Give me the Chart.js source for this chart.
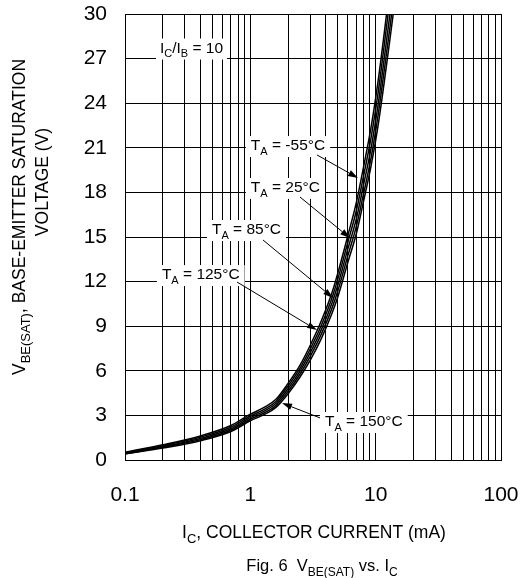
<!DOCTYPE html>
<html>
<head>
<meta charset="utf-8">
<script src="https://cdn.jsdelivr.net/npm/chart.js@4/dist/chart.umd.min.js"></script>
<style>
  html, body { margin: 0; padding: 0; background: #fff; }
  #wrap { width: 521px; height: 578px; position: relative; }
</style>
</head>
<body>
<div id="wrap"><canvas id="c" width="521" height="578"></canvas></div>
<script>
// ---- Data ----
const currents = [0.1, 0.2, 0.4, 0.7, 1, 1.3, 1.6, 2, 2.5, 3, 3.7, 4.5, 5, 6, 7, 8, 9.2, 10.5, 11.7, 13, 14];
const vbeM55 = [0.52, 1.02, 1.62, 2.32, 3.08, 3.55, 4.08, 5.15, 6.4, 7.7, 9.4, 11.3, 12.6, 15.1, 17.3, 19.7, 22.4, 25.6, 28.7, 31.9, 34.2];
const vbe25  = [0.48, 0.96, 1.54, 2.2, 2.96, 3.42, 3.94, 4.98, 6.2, 7.45, 9.1, 10.95, 12.2, 14.65, 16.75, 19.1, 21.7, 24.8, 27.9, 31.0, 33.2];
const vbe85  = [0.45, 0.9, 1.45, 2.1, 2.85, 3.3, 3.8, 4.8, 6.0, 7.2, 8.8, 10.6, 11.8, 14.2, 16.2, 18.5, 21.0, 24.0, 27.0, 30.0, 32.2];
const vbe125 = [0.42, 0.85, 1.37, 2.0, 2.74, 3.18, 3.66, 4.62, 5.8, 6.95, 8.5, 10.25, 11.4, 13.75, 15.7, 17.9, 20.35, 23.3, 26.2, 29.1, 31.3];
const vbe150 = [0.4, 0.8, 1.3, 1.92, 2.64, 3.07, 3.54, 4.46, 5.6, 6.7, 8.2, 9.9, 11.0, 13.3, 15.2, 17.4, 19.8, 22.6, 25.4, 28.3, 30.4];
const seriesNames = ['-55', '25', '85', '125', '150'];
const xGridValues = [0.1,0.2,0.3,0.4,0.5,0.6,0.7,0.8,0.9,1,2,3,4,5,6,7,8,9,10,20,30,40,50,60,70,80,90,100];
const xTickLabels = ['0.1', '1', '10', '100'];
const yMin = 0, yMax = 30, yStep = 3;

// annotation anchors in data units (current mA, voltage V)
const labelAnchors = {
  '-55': [1.01, 20.85], '25': [1.01, 18.03], '85': [0.494, 15.2],
  '125': [0.197, 12.17], '150': [3.94, 2.29]
};
const arrowAnchors = {
  '-55': [3.40, 20.52, 7.23, 18.97], '25': [2.49, 17.69, 6.24, 14.93],
  '85': [1.262, 14.80, 4.57, 10.90], '125': [0.783, 11.97, 3.40, 8.74],
  '150': [3.60, 2.83, 1.79, 3.83]
};
const ratioAnchor = [0.19, 27.41];

const FONT = '"Liberation Sans", Arial, Helvetica, sans-serif';
const seriesValues = [vbeM55, vbe25, vbe85, vbe125, vbe150];

function rich(ctx, parts, size, x, y, align) {
  const subSize = Math.round(size * 0.72);
  let w = 0;
  parts.forEach(p => { ctx.font = (p[1] ? subSize : size) + 'px ' + FONT; w += ctx.measureText(p[0]).width; });
  let cx = align === 'center' ? x - w / 2 : x;
  ctx.textAlign = 'left';
  ctx.textBaseline = 'alphabetic';
  parts.forEach(p => {
    ctx.font = (p[1] ? subSize : size) + 'px ' + FONT;
    ctx.fillText(p[0], cx, p[1] ? y + size * 0.3 : y);
    cx += ctx.measureText(p[0]).width;
  });
  return w;
}
function measureRich(ctx, parts, size) {
  const subSize = Math.round(size * 0.72);
  let w = 0;
  parts.forEach(p => { ctx.font = (p[1] ? subSize : size) + 'px ' + FONT; w += ctx.measureText(p[0]).width; });
  return w;
}
function arrow(ctx, x1, y1, x2, y2) {
  const ang = Math.atan2(y2 - y1, x2 - x1);
  const L = 10, W = 3.2;
  ctx.strokeStyle = '#000'; ctx.fillStyle = '#000'; ctx.lineWidth = 1;
  ctx.beginPath(); ctx.moveTo(x1, y1);
  ctx.lineTo(x2 - L * Math.cos(ang), y2 - L * Math.sin(ang)); ctx.stroke();
  ctx.beginPath();
  ctx.moveTo(x2, y2);
  ctx.lineTo(x2 - L * Math.cos(ang) + W * Math.sin(ang), y2 - L * Math.sin(ang) - W * Math.cos(ang));
  ctx.lineTo(x2 - L * Math.cos(ang) - W * Math.sin(ang), y2 - L * Math.sin(ang) + W * Math.cos(ang));
  ctx.closePath(); ctx.fill();
}

const annotPlugin = {
  id: 'annot',
  beforeDatasetsDraw(chart) {
    const ctx = chart.ctx, xs = chart.scales.x, ys = chart.scales.y;
    ctx.save();
    const size = 15.5;
    const ratioParts = [['I', false], ['C', true], ['/I', false], ['B', true], [' = 10', false]];
    let lx = xs.getPixelForValue(ratioAnchor[0]), ly = ys.getPixelForValue(ratioAnchor[1]);
    let w = measureRich(ctx, ratioParts, size);
    ctx.fillStyle = '#fff';
    ctx.fillRect(lx - 4, ly - 14, w + 8, 21);
    ctx.fillStyle = '#000';
    rich(ctx, ratioParts, size, lx, ly, 'left');
    seriesNames.forEach(n => {
      const parts = [['T', false], ['A', true], [' = ' + n + '\u00B0C', false]];
      const a = labelAnchors[n];
      const px = xs.getPixelForValue(a[0]), py = ys.getPixelForValue(a[1]);
      const tw = measureRich(ctx, parts, size);
      ctx.fillStyle = '#fff';
      ctx.fillRect(px - 5, py - 14, tw + 10, 21);
    });
    seriesNames.forEach(n => {
      const parts = [['T', false], ['A', true], [' = ' + n + '\u00B0C', false]];
      const a = labelAnchors[n];
      const px = xs.getPixelForValue(a[0]), py = ys.getPixelForValue(a[1]);
      ctx.fillStyle = '#000';
      rich(ctx, parts, size, px, py, 'left');
      const r = arrowAnchors[n];
      arrow(ctx, xs.getPixelForValue(r[0]), ys.getPixelForValue(r[1]),
                 xs.getPixelForValue(r[2]), ys.getPixelForValue(r[3]));
    });
    ctx.restore();
  },
  afterDraw(chart) {
    const ctx = chart.ctx;
    ctx.save();
    ctx.fillStyle = '#000';
    const l1 = [['V', false], ['BE(SAT)', true], [', BASE-EMITTER SATURATION', false]];
    const l2 = [['VOLTAGE (V)', false]];
    ctx.save();
    ctx.translate(25, 217);
    ctx.rotate(-Math.PI / 2);
    rich(ctx, l1, 17.5, 0, 0, 'center');
    ctx.restore();
    ctx.save();
    ctx.translate(48, 182);
    ctx.rotate(-Math.PI / 2);
    rich(ctx, l2, 17.5, 0, 0, 'center');
    ctx.restore();
    rich(ctx, [['I', false], ['C', true], [', COLLECTOR CURRENT (mA)', false]], 17.5, 314, 538, 'center');
    rich(ctx, [['Fig. 6  V', false], ['BE(SAT)', true], [' vs. I', false], ['C', true]], 16.5, 322, 571, 'center');
    ctx.restore();
  }
};

const datasets = seriesValues.map((vals, i) => ({
  label: 'TA = ' + seriesNames[i] + '\u00B0C',
  data: currents.map((c, j) => ({ x: c, y: vals[j] })),
  borderColor: '#000',
  borderWidth: 1.5,
  pointRadius: 0,
  fill: false,
  cubicInterpolationMode: 'monotone'
}));

new Chart(document.getElementById('c'), {
  type: 'line',
  data: { datasets },
  options: {
    responsive: false,
    animation: false,
    devicePixelRatio: 1,
    layout: { padding: { top: 14, right: 20, left: 0, bottom: 0 } },
    plugins: { legend: { display: false }, tooltip: { enabled: false }, title: { display: false } },
    scales: {
      x: {
        type: 'logarithmic',
        min: 0.1, max: 100,
        afterBuildTicks(scale) { scale.ticks = xGridValues.map(v => ({ value: v })); },
        afterFit(scale) { scale.height = 118; scale.paddingLeft = 0; scale.paddingRight = 0; },
        ticks: {
          autoSkip: false, maxRotation: 0, padding: 23, color: '#000',
          font: { family: FONT, size: 21 },
          callback(v) {
            const s = xTickLabels.find(t => Math.abs(parseFloat(t) - v) < 1e-9);
            return s === undefined ? '' : s;
          }
        },
        grid: { color: '#000', lineWidth: 1, drawTicks: false },
        border: { color: '#000', width: 1 }
      },
      y: {
        min: yMin, max: yMax,
        afterFit(scale) { scale.width = 125; scale.paddingTop = 0; scale.paddingBottom = 0; },
        ticks: { stepSize: yStep, padding: 18, color: '#000', font: { family: FONT, size: 21 } },
        grid: { color: '#000', lineWidth: 1, drawTicks: false },
        border: { color: '#000', width: 1 }
      }
    }
  },
  plugins: [annotPlugin]
});
</script>
</body>
</html>
